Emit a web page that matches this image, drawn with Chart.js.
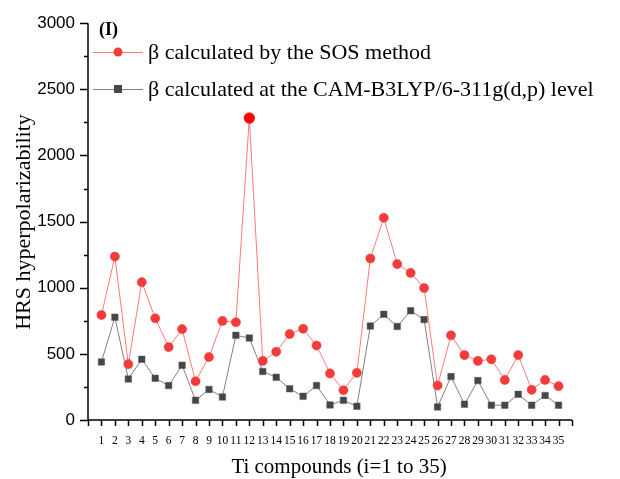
<!DOCTYPE html>
<html><head><meta charset="utf-8">
<script src="https://cdn.jsdelivr.net/npm/chart.js@4.4.1/dist/chart.umd.min.js"></script>
<style>html,body{margin:0;padding:0;background:#fff}#wrap{width:620px;height:479px}</style>
</head><body><div id="wrap"><canvas id="c" width="620" height="479"></canvas></div>
<script>
const compounds = [1,2,3,4,5,6,7,8,9,10,11,12,13,14,15,16,17,18,19,20,21,22,23,24,25,26,27,28,29,30,31,32,33,34,35];
const betaSOS = [794,1236,422,1042,769,551,687,293,476,749,739,2283,447,516,650,690,563,352,225,357,1221,1529,1179,1112,998,261,640,491,447,459,303,491,228,303,256];
const betaCAM = [439,777,310,459,315,260,414,149,231,174,640,620,367,323,236,179,260,114,149,104,710,799,707,826,759,99,328,119,298,112,112,194,112,186,112];
const yMajor = [0,500,1000,1500,2000,2500,3000];
const seriesNames = ['\u03b2 calculated by the SOS method','\u03b2 calculated at the CAM-B3LYP/6-311g(d,p) level'];
const panelLabel = '(I)';
const xTitle = 'Ti compounds (i=1 to 35)';
const yTitle = 'HRS hyperpolarizability';

const serif = "'Liberation Serif','DejaVu Serif',serif";
const sans = "'Liberation Sans',Arial,sans-serif";

const axisPlugin = {
  id:'axisTicks',
  afterDraw(chart){
    const ctx = chart.ctx, xs = chart.scales.x, ys = chart.scales.y, a = chart.chartArea;
    ctx.save();
    ctx.strokeStyle = '#000'; ctx.lineWidth = 1.5;
    for(let v=0; v<=3000; v+=250){
      const y = Math.round(ys.getPixelForValue(v))+0.5;
      const len = (v%500===0)?8:4;
      ctx.beginPath(); ctx.moveTo(a.left, y); ctx.lineTo(a.left-len, y); ctx.stroke();
    }
    for(let i=0;i<=36;i++){
      const x = Math.round(xs.getPixelForValue(i))+0.5;
      ctx.beginPath(); ctx.moveTo(x, a.bottom); ctx.lineTo(x, a.bottom+6); ctx.stroke();
    }
    ctx.beginPath(); ctx.moveTo(a.left, a.top); ctx.lineTo(a.left, a.bottom); ctx.lineTo(a.right, a.bottom); ctx.stroke();
    ctx.fillStyle='#000'; ctx.textAlign='center'; ctx.textBaseline='middle';
    ctx.font = "21px "+serif;
    ctx.fillText(xTitle, 339, 467);
    ctx.save(); ctx.translate(24, 222); ctx.rotate(-Math.PI/2);
    ctx.font = "22px "+serif; ctx.fillText(yTitle, 0, 0); ctx.restore();
    const ds = chart.data.datasets;
    const rows = [52, 89];
    ctx.font = "bold 18px "+serif; ctx.textAlign='left';
    ctx.fillText(panelLabel, 99, 30);
    ctx.font = "22px "+serif;
    ds.forEach((d,i)=>{
      const y = rows[i];
      ctx.strokeStyle = d.borderColor; ctx.lineWidth = 1;
      ctx.beginPath(); ctx.moveTo(93,y+0.5); ctx.lineTo(143,y+0.5); ctx.stroke();
      ctx.fillStyle = d.legendColor;
      if(d.pointStyle==='rect'){ ctx.fillRect(114,y-4,8,8); }
      else { ctx.beginPath(); ctx.arc(118,y,4.5,0,Math.PI*2); ctx.fill(); }
      ctx.fillStyle='#000';
      ctx.fillText(seriesNames[i], 148, y+1);
    });
    ctx.restore();
  }
};

const peakIdx = betaSOS.indexOf(Math.max(...betaSOS));

new Chart(document.getElementById('c'), {
  type:'line',
  data:{
    datasets:[
      {label:seriesNames[0], data:compounds.map((c,i)=>({x:c,y:betaSOS[i]})), legendColor:'#f23c3c',
       borderColor:'#ff7a7a', borderWidth:1, pointStyle:'circle',
       pointRadius:(c)=> c.dataIndex===peakIdx?5.4:4.6,
       pointBackgroundColor:(c)=> c.dataIndex===peakIdx?'#ff0000':'#f23c3c',
       pointBorderColor:(c)=> c.dataIndex===peakIdx?'#ff0000':'#f23c3c', pointBorderWidth:0.5, tension:0},
      {label:seriesNames[1], data:compounds.map((c,i)=>({x:c,y:betaCAM[i]})), legendColor:'#464646',
       borderColor:'#808080', borderWidth:1, pointStyle:'rect', pointRadius:4.6,
       pointBackgroundColor:'#464646', pointBorderColor:'#5a5a5a', pointBorderWidth:0.5, tension:0}
    ]
  },
  options:{
    responsive:false, animation:false, devicePixelRatio:1,
    layout:{padding:{top:17,right:48,left:0,bottom:0}},
    plugins:{legend:{display:false}, tooltip:{enabled:false}},
    scales:{
      x:{type:'linear', min:0, max:36,
         grid:{display:false, drawTicks:false}, border:{display:false},
         ticks:{stepSize:1, autoSkip:false, maxRotation:0, padding:14, color:'#000',
                font:{family:serif, size:11.5},
                callback:(v)=> (v>=1 && v<=35)? String(v) : ''},
         afterFit:(s)=>{s.height=59;}},
      y:{type:'linear', min:0, max:3000,
         grid:{display:false, drawTicks:false}, border:{display:false},
         ticks:{stepSize:250, color:'#000', padding:13, font:{family:sans,size:17},
                callback:(v)=> yMajor.includes(v)? String(v) : ''},
         afterFit:(s)=>{s.width=88;}}
    }
  },
  plugins:[axisPlugin]
});
</script></body></html>
